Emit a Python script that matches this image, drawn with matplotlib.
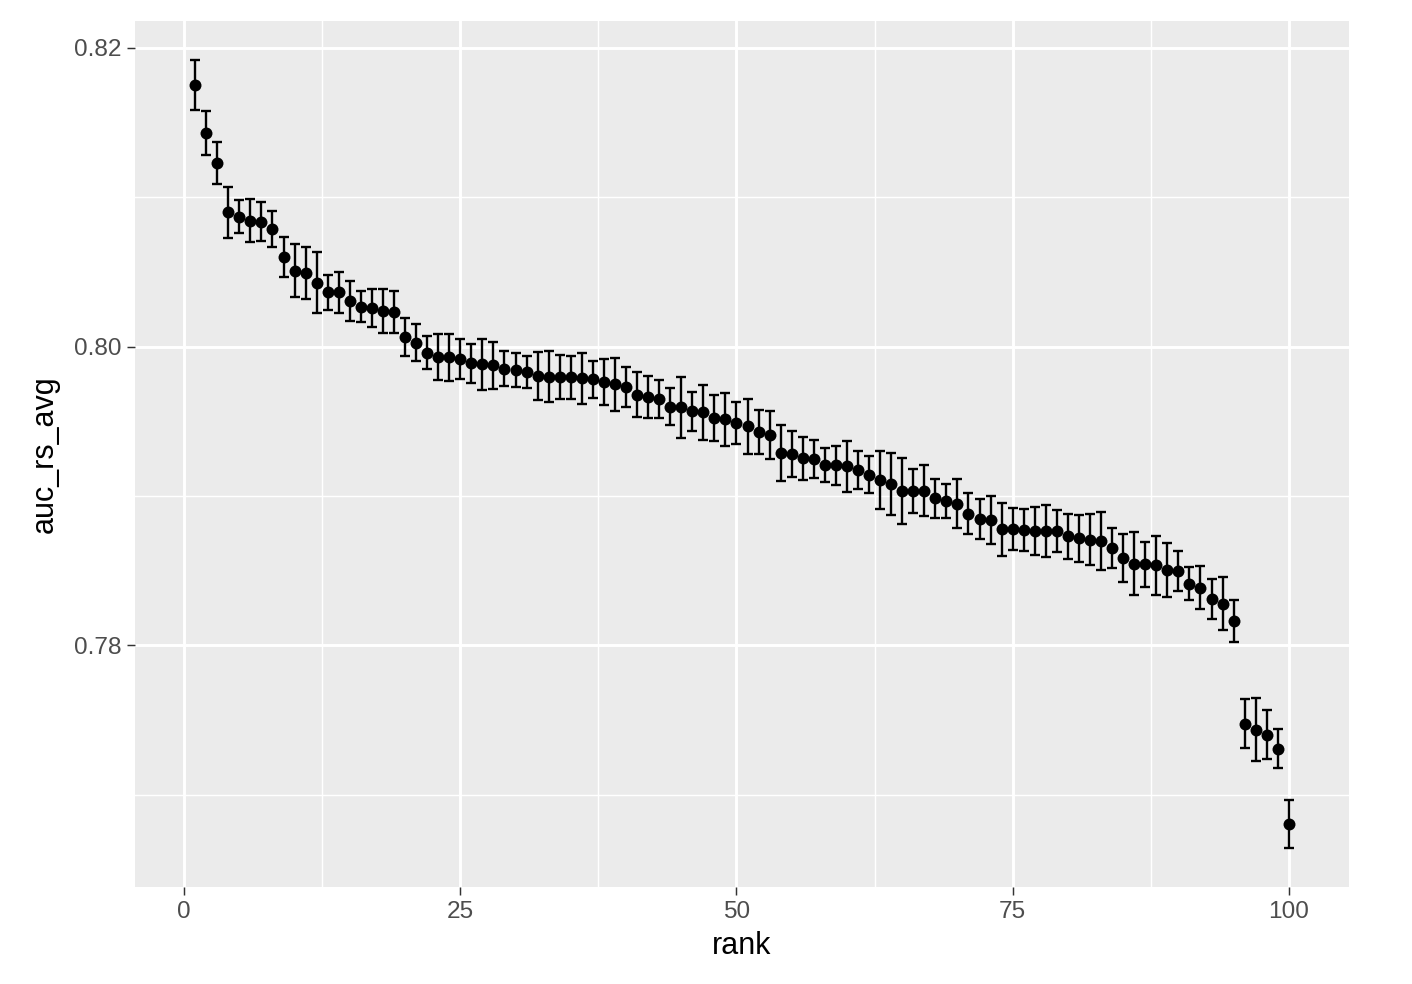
import numpy as np
import matplotlib
matplotlib.use("Agg")
import matplotlib.pyplot as plt
from matplotlib.ticker import FixedLocator

plt.rcParams['font.family'] = ['Liberation Sans', 'DejaVu Sans']

rank = list(range(1, 101))
auc_rs_avg = [
    0.81752, 0.81428, 0.81232, 0.80899, 0.80870, 0.80843, 0.80836, 0.80789, 0.80600, 0.80508,
    0.80490, 0.80428, 0.80363, 0.80363, 0.80305, 0.80267, 0.80260, 0.80240, 0.80233, 0.80064,
    0.80026, 0.79959, 0.79932, 0.79928, 0.79914, 0.79887, 0.79881, 0.79874, 0.79851, 0.79843,
    0.79829, 0.79802, 0.79798, 0.79798, 0.79794, 0.79787, 0.79782, 0.79764, 0.79747, 0.79731,
    0.79677, 0.79664, 0.79650, 0.79597, 0.79593, 0.79568, 0.79559, 0.79521, 0.79512, 0.79489,
    0.79467, 0.79427, 0.79409, 0.79289, 0.79280, 0.79251, 0.79248, 0.79206, 0.79204, 0.79199,
    0.79173, 0.79141, 0.79106, 0.79079, 0.79034, 0.79034, 0.79034, 0.78983, 0.78965, 0.78949,
    0.78882, 0.78846, 0.78838, 0.78777, 0.78777, 0.78771, 0.78766, 0.78766, 0.78764, 0.78730,
    0.78715, 0.78708, 0.78699, 0.78653, 0.78585, 0.78547, 0.78541, 0.78536, 0.78503, 0.78496,
    0.78413, 0.78384, 0.78310, 0.78279, 0.78163, 0.77475, 0.77435, 0.77402, 0.77308, 0.76805,
]
auc_err = [
    0.00165, 0.00147, 0.00141, 0.00171, 0.00110, 0.00145, 0.00132, 0.00119, 0.00136, 0.00179,
    0.00174, 0.00204, 0.00119, 0.00139, 0.00132, 0.00102, 0.00129, 0.00149, 0.00139, 0.00126,
    0.00123, 0.00112, 0.00154, 0.00159, 0.00134, 0.00132, 0.00172, 0.00160, 0.00117, 0.00114,
    0.00109, 0.00160, 0.00171, 0.00149, 0.00143, 0.00172, 0.00123, 0.00154, 0.00178, 0.00134,
    0.00151, 0.00139, 0.00125, 0.00124, 0.00206, 0.00131, 0.00182, 0.00153, 0.00176, 0.00139,
    0.00184, 0.00147, 0.00160, 0.00188, 0.00152, 0.00143, 0.00125, 0.00116, 0.00129, 0.00171,
    0.00125, 0.00124, 0.00196, 0.00209, 0.00221, 0.00145, 0.00170, 0.00131, 0.00112, 0.00162,
    0.00139, 0.00135, 0.00160, 0.00179, 0.00139, 0.00142, 0.00163, 0.00175, 0.00141, 0.00150,
    0.00160, 0.00171, 0.00196, 0.00133, 0.00160, 0.00211, 0.00150, 0.00198, 0.00181, 0.00133,
    0.00112, 0.00144, 0.00134, 0.00179, 0.00139, 0.00166, 0.00210, 0.00165, 0.00133, 0.00160,
]
x_major = [0, 25, 50, 75, 100]
y_major = [0.78, 0.80, 0.82]
y_labels = ["0.78", "0.80", "0.82"]

x = np.array(rank, dtype=float)
y = np.array(auc_rs_avg)
e = np.array(auc_err)

fig = plt.figure(figsize=(7.06, 4.92), dpi=200)
ax = fig.add_axes([0.0956, 0.0986, 0.8598, 0.8801])
ax.set_facecolor('#EBEBEB')
for s in ax.spines.values():
    s.set_visible(False)

ax.errorbar(x, y, yerr=e, fmt='none', ecolor='black', elinewidth=0.85,
            capsize=1.9, capthick=0.85, zorder=3)
ax.plot(x, y, 'o', color='black', markersize=4.3, markeredgewidth=0, zorder=4)

# ggplot-like expansion
cap_half = 0.45
xmin, xmax = x.min() - cap_half, x.max() + cap_half
xr = xmax - xmin
ax.set_xlim(xmin - 0.05 * xr, xmax + 0.05 * xr)
lo, hi = (y - e).min(), (y + e).max()
yr = hi - lo
ax.set_ylim(lo - 0.05 * yr, hi + 0.05 * yr)

ax.xaxis.set_major_locator(FixedLocator(x_major))
ax.xaxis.set_minor_locator(FixedLocator([12.5, 37.5, 62.5, 87.5]))
ax.yaxis.set_major_locator(FixedLocator(y_major))
ax.yaxis.set_minor_locator(FixedLocator([0.77, 0.79, 0.81]))
ax.set_yticklabels(y_labels)

ax.grid(which='major', color='white', linewidth=1.07, zorder=0)
ax.grid(which='minor', color='white', linewidth=0.53, zorder=0)
ax.set_axisbelow(True)

ax.tick_params(which='major', length=2.75, width=0.53, color='#333333',
               labelsize=8.8, labelcolor='#4D4D4D', pad=2.2)
ax.tick_params(which='minor', length=0)

ax.set_xlabel('rank', fontsize=11, color='black', labelpad=3)
ax.set_ylabel('auc_rs_avg', fontsize=11, color='black', labelpad=5)

fig.savefig('out.png', dpi=200, facecolor='white')
